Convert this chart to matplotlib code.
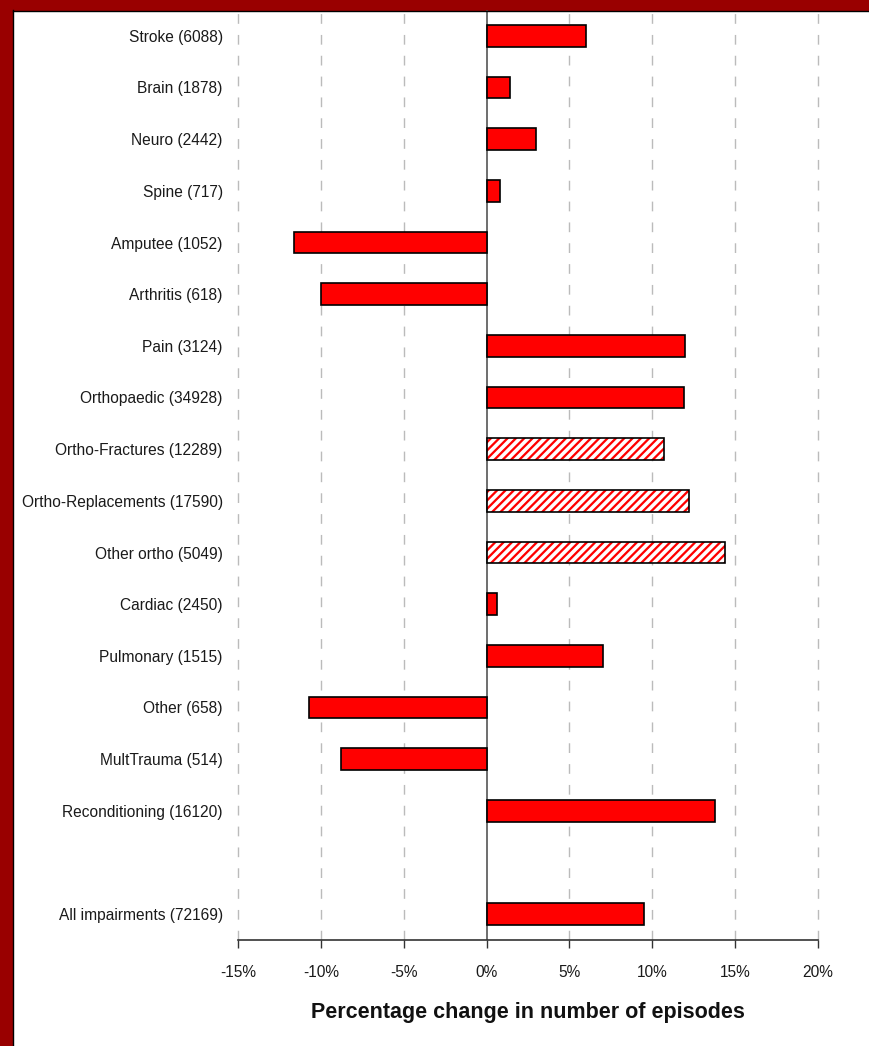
import matplotlib
matplotlib.use("Agg")
import matplotlib.pyplot as plt
from matplotlib.patches import Rectangle
from matplotlib.ticker import FuncFormatter
import matplotlib.font_manager as fm

names = ["Stroke", "Brain", "Neuro", "Spine", "Amputee", "Arthritis", "Pain",
         "Orthopaedic", "Ortho-Fractures", "Ortho-Replacements", "Other ortho",
         "Cardiac", "Pulmonary", "Other", "MultTrauma", "Reconditioning", "",
         "All impairments"]
counts = [6088, 1878, 2442, 717, 1052, 618, 3124, 34928, 12289, 17590, 5049,
          2450, 1515, 658, 514, 16120, None, 72169]
changes = [6.0, 1.4, 3.0, 0.8, -11.6, -10.0, 12.0, 11.9, 10.7, 12.2, 14.4,
           0.65, 7.0, -10.7, -8.8, 13.8, None, 9.5]
hatched = [False]*8 + [True]*3 + [False]*7
xticks = [-15, -10, -5, 0, 5, 10, 15, 20]

avail = {f.name for f in fm.fontManager.ttflist}
fam = "Liberation Sans Narrow" if "Liberation Sans Narrow" in avail else "Liberation Sans"
narrow = fam == "Liberation Sans Narrow"
plt.rcParams['font.family'] = [fam, 'DejaVu Sans']
plt.rcParams['hatch.linewidth'] = 2.6

W, H = 869, 1046
fig = plt.figure(figsize=(W/100, H/100), dpi=100)
fig.patch.set_facecolor("white")

# dark red border on left and top
fig.add_artist(Rectangle((0, 0), 12/W, 1, transform=fig.transFigure, color="#990000", zorder=0))
fig.add_artist(Rectangle((0, 1-10/H), 1, 10/H, transform=fig.transFigure, color="#990000", zorder=0))
fig.add_artist(plt.Line2D([12.5/W, 12.5/W], [0, 1-10/H], transform=fig.transFigure, color="black", lw=1))
fig.add_artist(plt.Line2D([12.5/W, 1], [1-10.5/H, 1-10.5/H], transform=fig.transFigure, color="black", lw=1))

ax = fig.add_axes([238/W, (H-940)/H, 580/W, 930/H])
ax.patch.set_alpha(0)
ax.set_xlim(-15, 20)
ax.set_ylim(len(names)-0.5, -0.5)

labels = []
for i, (n, c, v, h) in enumerate(zip(names, counts, changes, hatched)):
    labels.append(f"{n} ({c})" if c is not None else "")
    if v is None:
        continue
    if h:
        ax.barh(i, v, height=0.42, color="red", edgecolor="white", hatch="////", lw=0, zorder=3)
        ax.barh(i, v, height=0.42, color="none", edgecolor="black", lw=1.2, zorder=4)
    else:
        ax.barh(i, v, height=0.42, color="red", edgecolor="black", lw=1.2, zorder=3)

lab_size = 12.4 if narrow else 11.2
ax.set_yticks(range(len(names)))
ax.set_yticklabels(labels, fontsize=lab_size, color="#1a1a1a")
ax.tick_params(axis="y", length=0, pad=11)

ax.set_xticks(xticks)
ax.xaxis.set_major_formatter(FuncFormatter(lambda x, p: f"{int(x)}%"))
ax.tick_params(axis="x", length=6, width=1, labelsize=lab_size, pad=12, color="#333333",
               labelcolor="#1a1a1a")

for t in xticks:
    if t == 0:
        ax.axvline(0, color="#555555", lw=1.2, zorder=2)
    else:
        ax.axvline(t, color="#bbbbbb", lw=1, ls=(0, (7, 8)), zorder=1, clip_on=False)

for s in ["top", "right", "left"]:
    ax.spines[s].set_visible(False)
ax.spines["bottom"].set_color("#333333")
ax.spines["bottom"].set_linewidth(1.2)

ax.set_xlabel("Percentage change in number of episodes", fontsize=15.5, fontweight="bold",
              labelpad=16, color="#111111")

fig.savefig("out.png", dpi=100)
